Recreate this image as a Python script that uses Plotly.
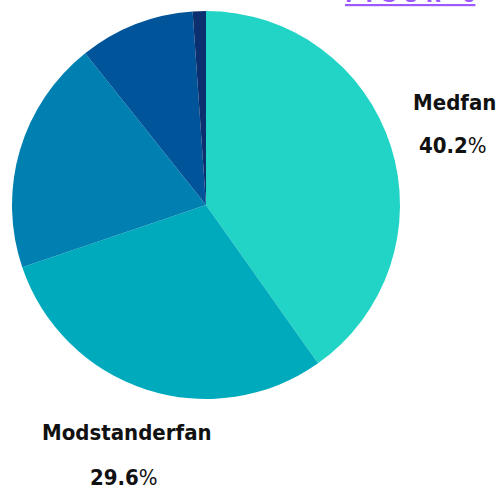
import plotly.graph_objects as go

categories = ["Medfan", "Modstanderfan", "Kategori 3", "Kategori 4", "Kategori 5"]
values = [40.2, 29.6, 19.5, 9.6, 1.1]
colors = ["#22D4C5", "#00AABD", "#0080B1", "#00559A", "#0C2F6F"]
title_text = "FIGUR 6"

fig = go.Figure(go.Pie(
    labels=categories,
    values=values,
    sort=False,
    direction="clockwise",
    rotation=0,
    marker=dict(colors=colors, line=dict(width=0)),
    textinfo="none",
    hoverinfo="label+percent",
    domain=dict(x=[12/497, 400/497], y=[89/488, 477/488]),
    showlegend=False,
))

font_family = "DejaVu Sans Condensed, Liberation Sans Narrow, sans-serif"
label_font = dict(family=font_family, size=22, color="#111111")

def ann(text, x, y):
    return dict(text=text, x=x/497, y=1-y/488, xref="paper", yref="paper",
                xanchor="center", yanchor="middle", showarrow=False,
                align="center", font=label_font)

fig.update_layout(
    width=497, height=488,
    margin=dict(l=0, r=0, t=0, b=0),
    paper_bgcolor="white", plot_bgcolor="white",
    annotations=[
        ann(f"<b>{categories[0]}</b>", 454, 102),
        ann(f"<b>{values[0]:.1f}</b>%", 453, 145),
        ann(f"<b>{categories[1]}</b>", 127, 432),
        ann(f"<b>{values[1]:.1f}</b>%", 124, 477),
        dict(text="<u><b>" + " ".join(title_text) + "</b></u>", x=410/497, y=1,
             xref="paper", yref="paper", xanchor="center", yanchor="bottom", yshift=-9,
             showarrow=False,
             font=dict(family=font_family, size=22, color="#9B59FF")),
    ],
)

fig.write_html("out.html", config={"displayModeBar": False},
               post_script="document.body.style.margin='0';")
